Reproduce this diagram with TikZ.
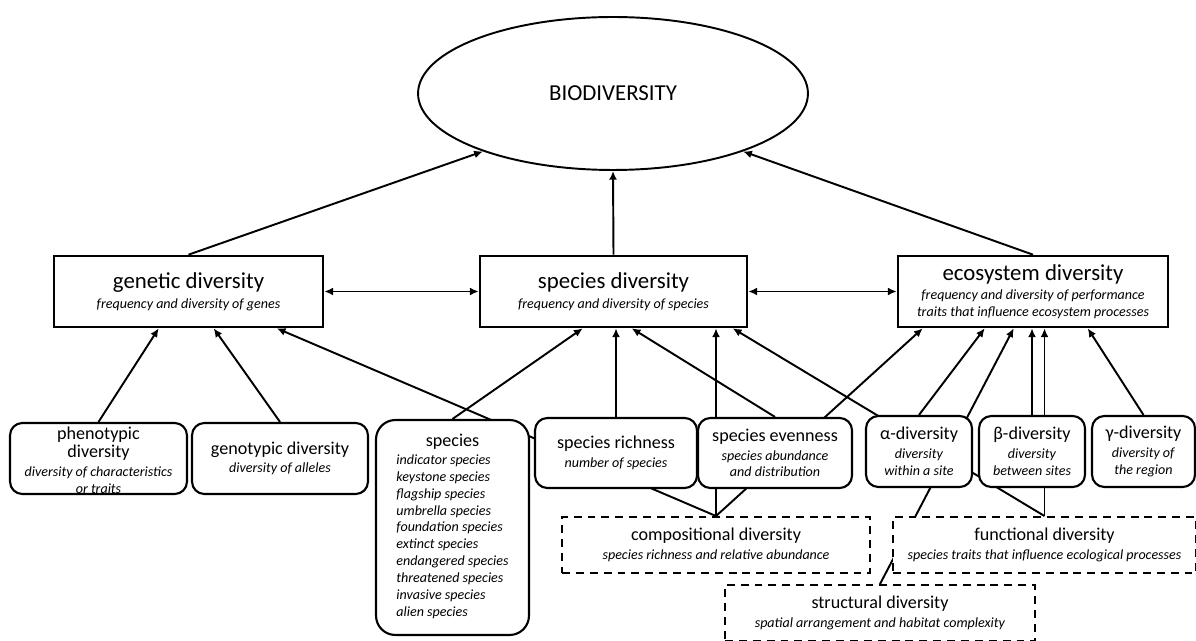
\documentclass[tikz,border=0pt]{standalone}
\usepackage{fontspec}
\setmainfont{Carlito}
\usetikzlibrary{shapes.geometric,arrows.meta,calc,backgrounds}

\newcommand{\bigttl}[1]{{\fontsize{13}{15}\selectfont #1}}
\newcommand{\smallttl}[1]{{\fontsize{10.3}{12}\selectfont #1}}

\tikzset{
  every node/.style={font=\fontsize{8}{9.6}\selectfont},
  levelbox/.style={draw, line width=1.5pt, fill=white, minimum height=1.42cm,
    align=center, inner sep=2pt},
  unitbox/.style={draw, line width=1.2pt, fill=white, rounded corners=7pt,
    minimum height=1.42cm, align=center, inner sep=2pt},
  groupbox/.style={draw, line width=1.1pt, fill=white,
    dash pattern=on 4.5pt off 3.4pt, minimum height=1.12cm, align=center,
    inner sep=2pt},
  arr/.style={line width=1.1pt, -{Latex[length=5pt,width=4.5pt]}},
  dblarr/.style={line width=1.1pt,
    {Latex[length=5pt,width=4.5pt]}-{Latex[length=5pt,width=4.5pt]}},
}

\begin{document}
\begin{tikzpicture}[x=0.02cm, y=-0.02cm]
  \useasboundingbox (0,0) rectangle (1196,641);

  % Biodiversity
  \node [draw, ellipse, line width=1.1pt, minimum width=7.8cm,
    minimum height=3.06cm] (bio) at (613,93.5) {\bigttl{BIODIVERSITY}};

  % Levels
  \node [levelbox, minimum width=5.38cm] (genetic) at (188.5,291.5)
    {\bigttl{genetic diversity}\\[2pt] \textit{frequency and diversity of genes}};
  \node [levelbox, minimum width=5.34cm] (sdiv) at (613.5,291.5)
    {\bigttl{species diversity}\\[2pt] \textit{frequency and diversity of species}};
  \node [levelbox, minimum width=5.4cm] (eco) at (1033,291.5)
    {\bigttl{ecosystem diversity}\\[1pt]
     \textit{frequency and diversity of performance}\\
     \textit{traits that influence ecosystem processes}};

  % Genetic units
  \node [unitbox, minimum width=3.54cm] (pheno) at (98.5,458.5) {};
  \node [align=center, inner sep=0pt] (phenotext) at (98.5,460)
    {\smallttl{phenotypic}\\[1pt] \smallttl{diversity}\\[1pt]
     \textit{diversity of characteristics}\\ \textit{or traits}};
  \node [unitbox, minimum width=3.52cm] (geno) at (280,458.5)
    {\smallttl{genotypic diversity}\\[1pt] \textit{diversity of alleles}};

  % Species units
  \node [unitbox, rounded corners=11pt, minimum width=3.06cm,
    minimum height=4.3cm] (list) at (452.5,527.5)
    {\smallttl{species}\\[1pt]
     {\itshape\begin{tabular}{@{}l@{}}
       indicator species\\ keystone species\\ flagship species\\
       umbrella species\\ foundation species\\ extinct species\\
       endangered species\\ threatened species\\ invasive species\\
       alien species
     \end{tabular}}};
  \node [unitbox, minimum width=3.24cm, minimum height=1.4cm] (rich)
    at (616,453) {\smallttl{species richness}\\[1pt] \textit{number of species}};
  \node [unitbox, minimum width=3.08cm, minimum height=1.4cm] (even)
    at (775,453) {\smallttl{species evenness}\\[1pt]
     \textit{species abundance}\\ \textit{and distribution}};

  % Ecosystem units
  \node [unitbox, minimum width=2.12cm] (alpha) at (919,451.5)
    {\smallttl{α-diversity}\\[1pt] \textit{diversity}\\ \textit{within a site}};
  \node [unitbox, minimum width=2.12cm] (beta) at (1032,451.5)
    {\smallttl{β-diversity}\\[1pt] \textit{diversity}\\ \textit{between sites}};
  \node [unitbox, minimum width=2.06cm] (gamma) at (1143.5,451.5)
    {\smallttl{γ-diversity}\\[1pt] \textit{diversity of}\\ \textit{the region}};

  % Groups
  \node [groupbox, minimum width=6.16cm] (comp) at (716,545)
    {\smallttl{compositional diversity}\\[1pt]
     \textit{species richness and relative abundance}};
  \node [groupbox, minimum width=6.06cm] (func) at (1044.5,545)
    {\smallttl{functional diversity}\\[1pt]
     \textit{species traits that influence ecological processes}};
  \node [groupbox, minimum width=6.2cm] (struct) at (880,613)
    {\smallttl{structural diversity}\\[1pt]
     \textit{spatial arrangement and habitat complexity}};

  % Arrow tips on the level boxes
  \coordinate (g1) at ($(genetic.south west)+(106,0)$);
  \coordinate (g2) at ($(genetic.south west)+(161,0)$);
  \coordinate (g3) at ($(genetic.south west)+(224,0)$);
  \coordinate (s1) at ($(sdiv.south west)+(104,0)$);
  \coordinate (s3) at ($(sdiv.south west)+(153,0)$);
  \coordinate (s5) at ($(sdiv.south west)+(254,0)$);
  \coordinate (e1) at ($(eco.south west)+(26,0)$);
  \coordinate (e2) at ($(eco.south west)+(88,0)$);
  \coordinate (e3) at ($(eco.south west)+(117,0)$);
  \coordinate (e6) at ($(eco.south west)+(191,0)$);

  \begin{scope}[on background layer]
    % Levels to biodiversity
    \draw [arr] (genetic.north) -- (bio.204);
    \draw [arr] (sdiv.north) -- (bio.south);
    \draw [arr] (eco.north) -- (bio.336);
    \draw [dblarr] (genetic) -- (sdiv);
    \draw [dblarr] (sdiv) -- (eco);

    % Into genetic diversity
    \draw [arr] (pheno.north) -- (g1);
    \draw [arr] (geno.north) -- (g2);
    \draw [arr] (comp.north) -- (g3);

    % Into species diversity
    \draw [arr] (list.north) -- (s1);
    \draw [arr] (rich.north) -- (rich.north |- sdiv.south);
    \draw [arr] (even.north) -- (s3);
    \draw [arr] (comp.north) -- (comp.north |- sdiv.south);
    \draw [arr] (func.north) -- (s5);

    % Into ecosystem diversity
    \draw [arr] (comp.north) -- (e1);
    \draw [arr] (alpha.north) -- (e2);
    \draw [arr] (struct.north) -- (e3);
    \draw [arr] (beta.north) -- (beta.north |- eco.south);
    \draw [arr] (func.north) -- (func.north |- eco.south);
    \draw [arr] (gamma.north) -- (e6);
  \end{scope}
\end{tikzpicture}
\end{document}
